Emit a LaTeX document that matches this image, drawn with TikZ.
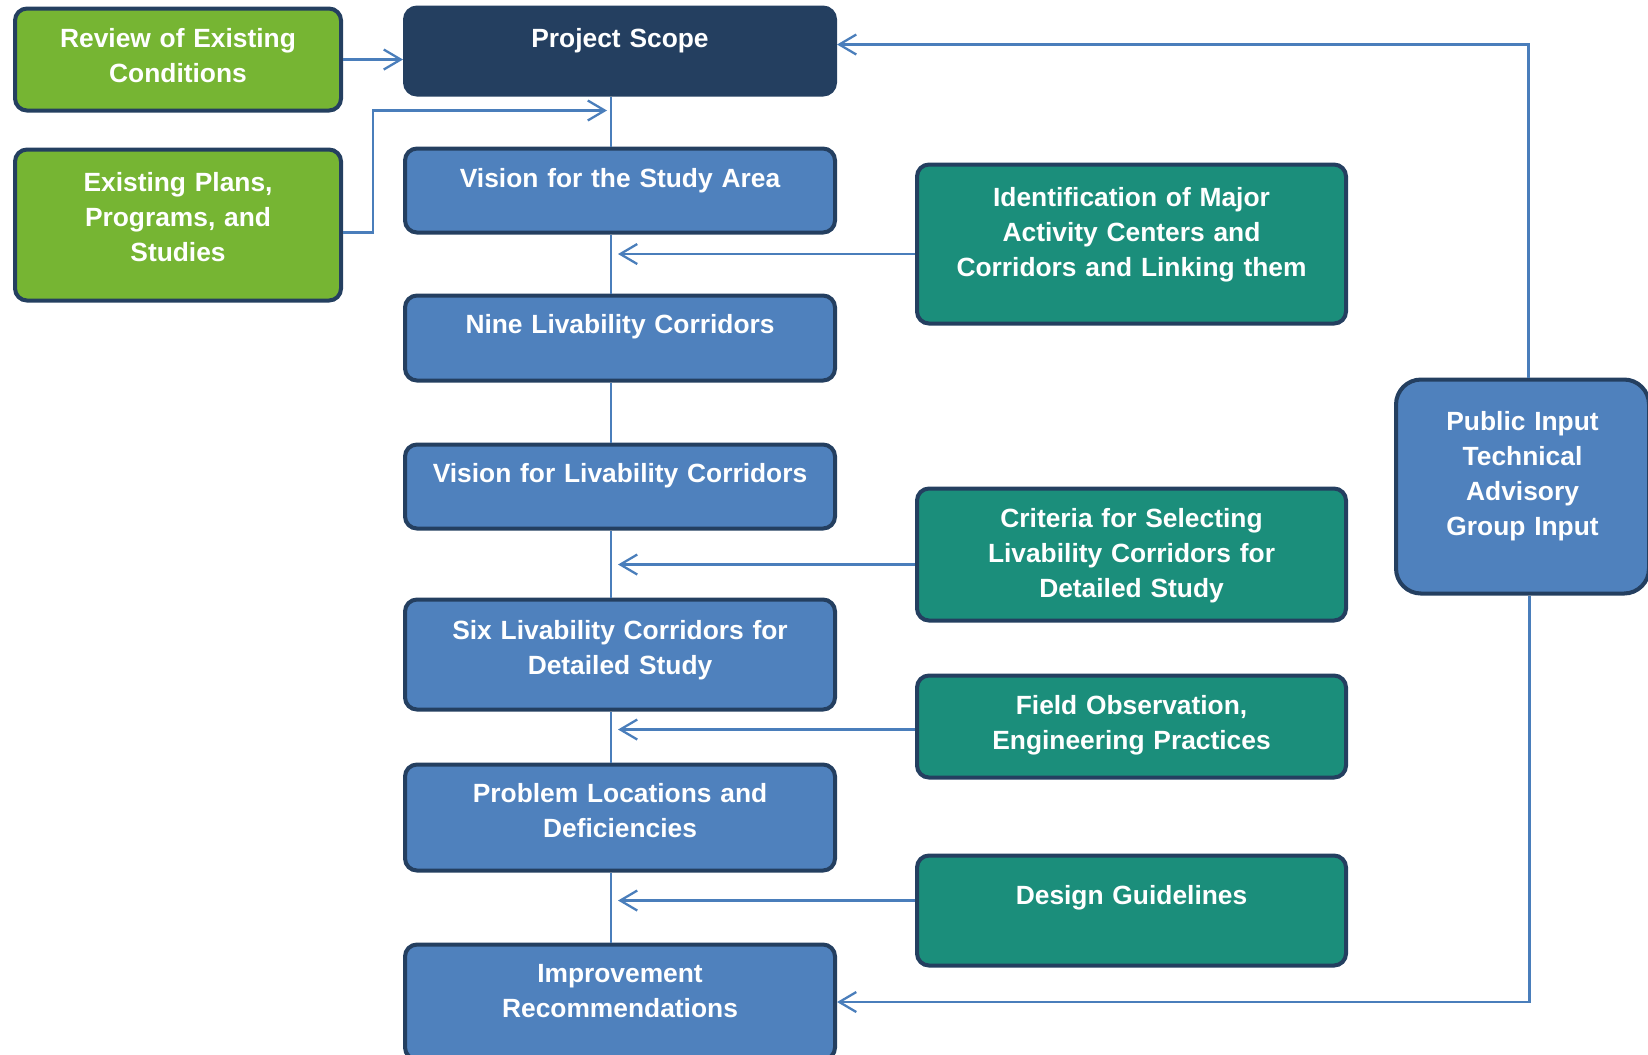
\documentclass[tikz,border=0pt]{standalone}
\usepackage{fontspec}
\setmainfont{Liberation Sans}
\usetikzlibrary{arrows.meta}
\definecolor{navy}{HTML}{243F60}
\definecolor{stageblue}{HTML}{4F81BD}
\definecolor{srcgreen}{HTML}{76B533}
\definecolor{methteal}{HTML}{1B8E7B}
\definecolor{linkblue}{HTML}{4A7EBB}
\tikzset{
  box/.style={draw=navy, line width=2.3pt, rounded corners=0.24cm, text=white, font=\bfseries\fontsize{15pt}{19.9pt}\selectfont, align=center, inner xsep=0pt, inner ysep=0pt, anchor=north west},
  stage/.style={box, fill=stageblue, text width=8.6cm},
  source/.style={box, fill=srcgreen, text width=6.52cm},
  method/.style={box, fill=methteal, text width=8.58cm},
  link/.style={draw=linkblue, line width=1.3pt},
  feed/.style={link, -{Straight Barb[length=0.34cm, width=0.4cm, line width=1.3pt]}}
}
\begin{document}
\begin{tikzpicture}
\useasboundingbox (0.06,-0.05) rectangle (33.02,-21.15);
\node[source, text height=0.78cm, text depth=1.26cm] (review) at (0.32,-0.18) {Review of Existing\\Conditions};
\node[source, text height=0.84cm, text depth=2.18cm] (plans) at (0.32,-3.0) {Existing Plans,\\Programs, and\\Studies};
\node[stage, fill=navy, text height=0.8cm, text depth=0.94cm] (scope) at (8.12,-0.16) {Project Scope};
\node[stage, text height=0.78cm, text depth=0.9cm] (area) at (8.12,-2.98) {Vision for the Study Area};
\node[stage, text height=0.76cm, text depth=0.94cm] (nine) at (8.12,-5.92) {Nine Livability Corridors};
\node[stage, text height=0.76cm, text depth=0.92cm] (visliv) at (8.12,-8.9) {Vision for Livability Corridors};
\node[stage, text height=0.8cm, text depth=1.4cm] (six) at (8.12,-12.0) {Six Livability Corridors for\\Detailed Study};
\node[stage, text height=0.76cm, text depth=1.36cm] (problem) at (8.12,-15.3) {Problem Locations and\\Deficiencies};
\node[stage, text height=0.76cm, text depth=1.54cm] (improve) at (8.12,-18.9) {Improvement\\Recommendations};
\node[method, text height=0.84cm, text depth=2.34cm] (ident) at (18.36,-3.3) {Identification of Major\\Activity Centers and\\Corridors and Linking them};
\node[method, text height=0.78cm, text depth=1.86cm] (criteria) at (18.36,-9.78) {Criteria for Selecting\\Livability Corridors for\\Detailed Study};
\node[method, text height=0.78cm, text depth=1.26cm] (field) at (18.36,-13.52) {Field Observation,\\Engineering Practices};
\node[method, text height=0.98cm, text depth=1.22cm] (design) at (18.36,-17.12) {Design Guidelines};
\node[box, fill=stageblue, rounded corners=0.5cm, text width=5.06cm, text height=1.02cm, text depth=3.26cm] (public) at (27.94,-7.6) {Public Input\\Technical\\Advisory\\Group Input};
\coordinate (spine) at (12.28,0);
\coordinate (merge) at (12.2,-2.26);
\foreach \a/\b in {scope/area, area/nine, nine/visliv, visliv/six, six/problem, problem/improve}
  \draw[link] (\a.south -| spine) -- (\b.north -| spine);
\draw[feed] (review.east) -- (review.east -| scope.west);
\draw[feed] ([yshift=-0.15cm]plans.east) -- ++(0.6,0) |- (merge);
\draw[feed] ([yshift=-0.2cm]ident.west) -- ++(-5.94,0);
\draw[feed] ([yshift=-0.2cm]criteria.west) -- ++(-5.94,0);
\draw[feed] ([yshift=-0.06cm]field.west) -- ++(-5.94,0);
\draw[feed] ([yshift=0.2cm]design.west) -- ++(-5.94,0);
\draw[feed] ([xshift=0.12cm]public.north) |- ([yshift=0.13cm]scope.east);
\draw[feed] ([xshift=0.14cm]public.south) |- (improve.east);
\end{tikzpicture}
\end{document}
